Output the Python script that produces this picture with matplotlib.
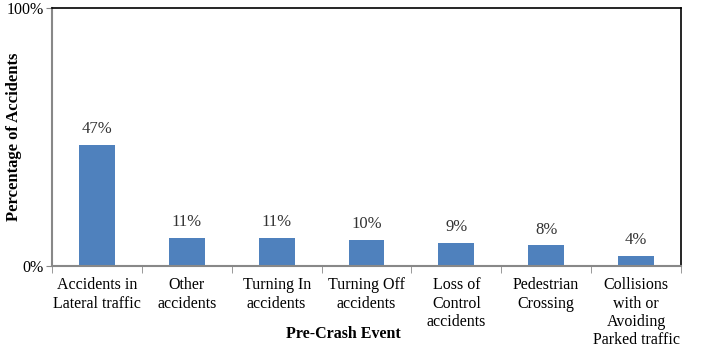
import matplotlib.pyplot as plt

plt.rcParams['font.family'] = ['Liberation Serif', 'DejaVu Serif']
plt.rcParams['font.size'] = 10

categories = ['Accidents in\nLateral traffic', 'Other\naccidents', 'Turning In\naccidents',
              'Turning Off\naccidents', 'Loss of\nControl\naccidents', 'Pedestrian\nCrossing',
              'Collisions\nwith or\nAvoiding\nParked traffic']
values = [47, 11, 11, 10, 9, 8, 4]

fig = plt.figure(figsize=(7.16, 3.61), dpi=100)
ax = fig.add_axes([52 / 716, 1 - 266 / 361, 629 / 716, 258 / 361])

x = list(range(len(categories)))
bars = ax.bar(x, values, width=0.4, color='#4F81BD')
for xi, v in zip(x, values):
    ax.text(xi, v + 3, f'{v}%', ha='center', va='bottom', fontsize=12, color='#333333')

ax.set_xlim(-0.5, len(categories) - 0.5)
ax.set_ylim(0, 100)
ax.set_yticks([0, 100])
ax.set_yticklabels(['0%', '100%'], fontsize=11.5)
ax.set_xticks(x)
ax.set_xticklabels(categories, fontsize=11.5, linespacing=1.2)
ax.tick_params(axis='x', length=0, pad=8)
ax.set_xticks([i + 0.5 for i in range(-1, len(categories))], minor=True)
ax.tick_params(axis='x', which='minor', length=5, color='#888888')
ax.tick_params(axis='y', length=4, color='#888888', pad=2)

for side in ['left', 'bottom']:
    ax.spines[side].set_color('#888888')
    ax.spines[side].set_linewidth(1.5)
for side in ['top', 'right']:
    ax.spines[side].set_color('black')
    ax.spines[side].set_linewidth(1.2)

fig.text(343 / 716, 1 - 334 / 361, 'Pre-Crash Event', ha='center', va='center',
         fontsize=11.5, fontweight='bold')
fig.text(14 / 716, 1 - 137 / 361, 'Percentage of Accidents', ha='center', va='center',
         rotation=90, fontsize=12, fontweight='bold')

fig.savefig('out.png', dpi=100)
